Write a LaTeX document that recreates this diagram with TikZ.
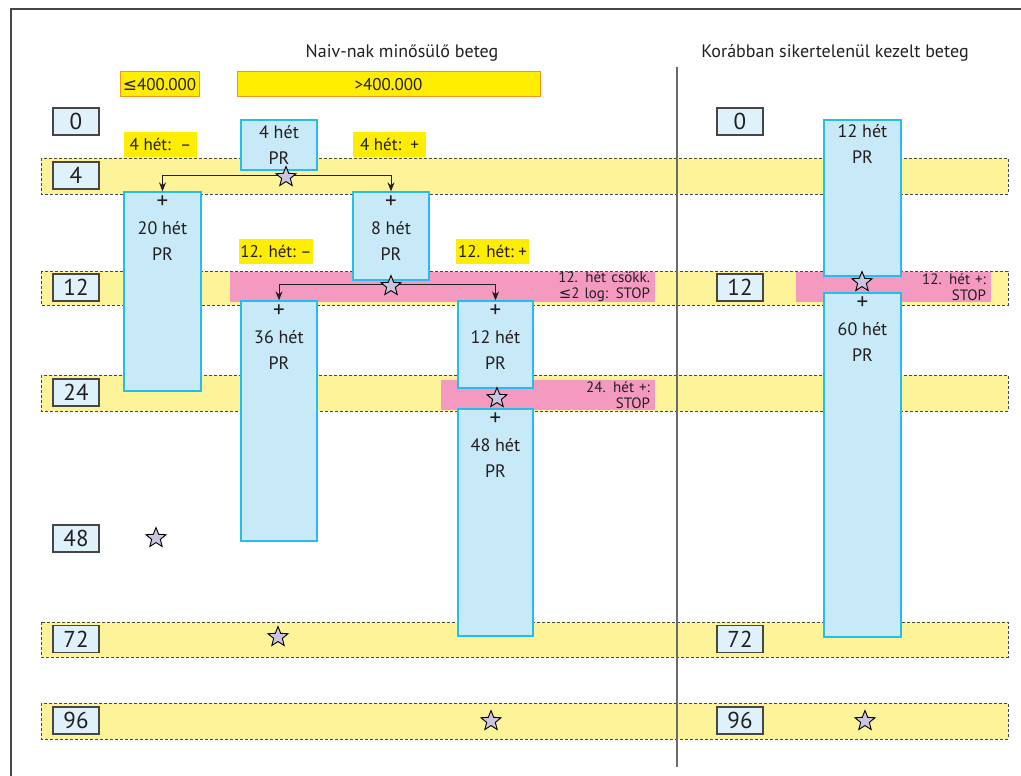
\documentclass[tikz,border=0pt]{standalone}
\usepackage{fontspec}
\setmainfont{PT Sans}
\newfontfamily\symfont{DejaVu Sans}
\usetikzlibrary{shapes.geometric, arrows.meta, positioning}

\definecolor{jaune}{RGB}{255,237,0}
\definecolor{narancs}{RGB}{247,148,29}
\definecolor{savsarga}{RGB}{253,243,153}
\definecolor{rozsa}{RGB}{244,154,193}
\definecolor{kek}{RGB}{199,233,248}
\definecolor{kekvonal}{RGB}{38,188,236}
\definecolor{vilagoskek}{RGB}{223,242,251}
\definecolor{keret}{RGB}{70,70,70}
\definecolor{lila}{RGB}{204,197,225}
\definecolor{szoveg}{RGB}{35,31,32}

\newcommand{\kisebb}{{\symfont\char"2264}}
\newcommand{\plusz}{{\fontsize{23}{26}\selectfont +}}

\tikzset{
    band/.style={fill=savsarga, draw=keret, dash pattern=on 3pt off 2pt, line width=0.8pt},
    prbox/.style={draw=kekvonal, fill=kek, line width=1.3pt, inner sep=0pt,
        minimum width=76pt, align=center, text=szoveg, font=\fontsize{18}{26}\selectfont},
    prtext/.style={anchor=north, align=center, inner sep=0pt, text=szoveg,
        font=\fontsize{18}{26}\selectfont, yshift=-4pt},
    hetbox/.style={draw=keret, fill=vilagoskek, line width=1.2pt, inner sep=0pt,
        minimum width=46pt, minimum height=27pt, text=szoveg, font=\fontsize{23}{23}\selectfont},
    sarga/.style={fill=jaune, inner sep=0pt, minimum height=25pt, text=szoveg,
        font=\fontsize{17}{17}\selectfont},
    pinkbox/.style={fill=rozsa, inner xsep=5pt, inner ysep=0pt, minimum height=30pt,
        align=right, text=szoveg, font=\fontsize{15}{16}\selectfont},
    csillag/.style={star, star points=5, star point ratio=2.3, draw=black, fill=lila,
        minimum size=21pt, inner sep=0pt, line width=0.9pt},
    nyil/.style={-{Stealth[length=9pt, width=7pt]}, line width=1pt, szoveg}
}

\begin{document}
\begin{tikzpicture}[x=1pt, y=-1pt]
    \useasboundingbox (0,0) rectangle (1021,776);

    % Frame
    \draw[keret, line width=1.2pt] (1021,9) -- (11,9) -- (11,776);

    % Week bands
    \foreach \fent/\lent in {158/194, 271/305, 375/411, 622/657, 703/739}
        \draw[band] (41,\fent) rectangle (1008,\lent);

    % Stop rules
    \node[pinkbox, text width=415pt] (stopA) at (442.5,287) {12. hét csökk.\\\kisebb2 log: STOP};
    \node[pinkbox, text width=204pt] (stopB) at (548,395) {24. hét +:\\STOP};
    \node[pinkbox, text width=185pt] (stopC) at (893.5,287) {12. hét +:\\STOP};

    % Divider
    \draw[keret!80, line width=1.3pt] (677,67) -- (677,767);

    % Titles
    \node[text=szoveg, font=\fontsize{18}{18}\selectfont] (naiv) at (402,53) {Naiv-nak minősülő beteg};
    \node[text=szoveg, font=\fontsize{18}{18}\selectfont] (korabban) at (835,53) {Korábban sikertelenül kezelt beteg};

    % Viral load
    \node[sarga, draw=narancs, line width=1pt, minimum width=79pt] (kicsi) at (159.5,84.5) {\kisebb400.000};
    \node[sarga, draw=narancs, line width=1pt, minimum width=303pt] (nagy) at (388.5,84.5) {>400.000};

    % Week labels
    \foreach \het/\y in {0/121.5, 4/175.5, 12/287.5, 24/392.5, 48/538.5, 72/639, 96/720.5}
        \node[hetbox] (bal\het) at (76,\y) {\het};
    \foreach \het/\y in {0/121.5, 12/287.5, 72/639, 96/720.5}
        \node[hetbox] (jobb\het) at (740,\y) {\het};

    % Decisions
    \node[sarga, minimum width=73pt] (neg4) at (160.5,144.5) {4 hét:\ \ –};
    \node[sarga, minimum width=73pt] (pos4) at (389.5,144.5) {4 hét:\ \ +};
    \node[sarga, minimum width=74pt] (neg12) at (276,251) {12. hét:\ –};
    \node[sarga, minimum width=73pt] (pos12) at (492.5,251) {12. hét:\ +};

    % Therapy boxes
    \node[prbox, minimum height=50pt] (pr4) at (279,145) {4 hét\\PR};
    \node[prbox, minimum width=77pt, minimum height=199pt,
        label={[prtext]north:{\plusz\\20 hét\\PR}}] (pr20) at (162.5,291.5) {};
    \node[prbox, minimum height=88pt,
        label={[prtext]north:{\plusz\\8 hét\\PR}}] (pr8) at (391,236) {};
    \node[prbox, minimum height=240pt,
        label={[prtext]north:{\plusz\\36 hét\\PR}}] (pr36) at (279,421) {};
    \node[prbox, minimum width=75pt, minimum height=87pt,
        label={[prtext]north:{\plusz\\12 hét\\PR}}] (pr12) at (495.5,344.5) {};
    \node[prbox, minimum width=75pt, minimum height=227pt,
        label={[prtext]north:{\plusz\\48 hét\\PR}}] (pr48) at (495.5,522.5) {};
    \node[prbox, minimum width=77pt, minimum height=156pt,
        label={[prtext, yshift=-1pt]north:{12 hét\\PR}}] (prK12) at (862.5,198) {};
    \node[prbox, minimum width=77pt, minimum height=344pt,
        label={[prtext]north:{\plusz\\60 hét\\PR}}] (prK60) at (862.5,465) {};

    % Branches
    \coordinate (fork4) at ([yshift=-5pt]pr4.south);
    \draw[nyil] (fork4) -| (pr20.north);
    \draw[nyil] (fork4) -| (pr8.north);
    \coordinate (fork8) at ([yshift=-4pt]pr8.south);
    \draw[nyil] (fork8) -| (pr36.north);
    \draw[nyil] (fork8) -| (pr12.north);

    % Controls
    \node[csillag] (cs4) at (286,177) {};
    \node[csillag] (cs12) at (391,286) {};
    \node[csillag] (cs24) at (497,398) {};
    \node[csillag] (cs48) at (156,538) {};
    \node[csillag] (cs72) at (278,637) {};
    \node[csillag] (cs96) at (491,721) {};
    \node[csillag] (csK12) at (862,282) {};
    \node[csillag] (csK96) at (865,721) {};
\end{tikzpicture}
\end{document}
